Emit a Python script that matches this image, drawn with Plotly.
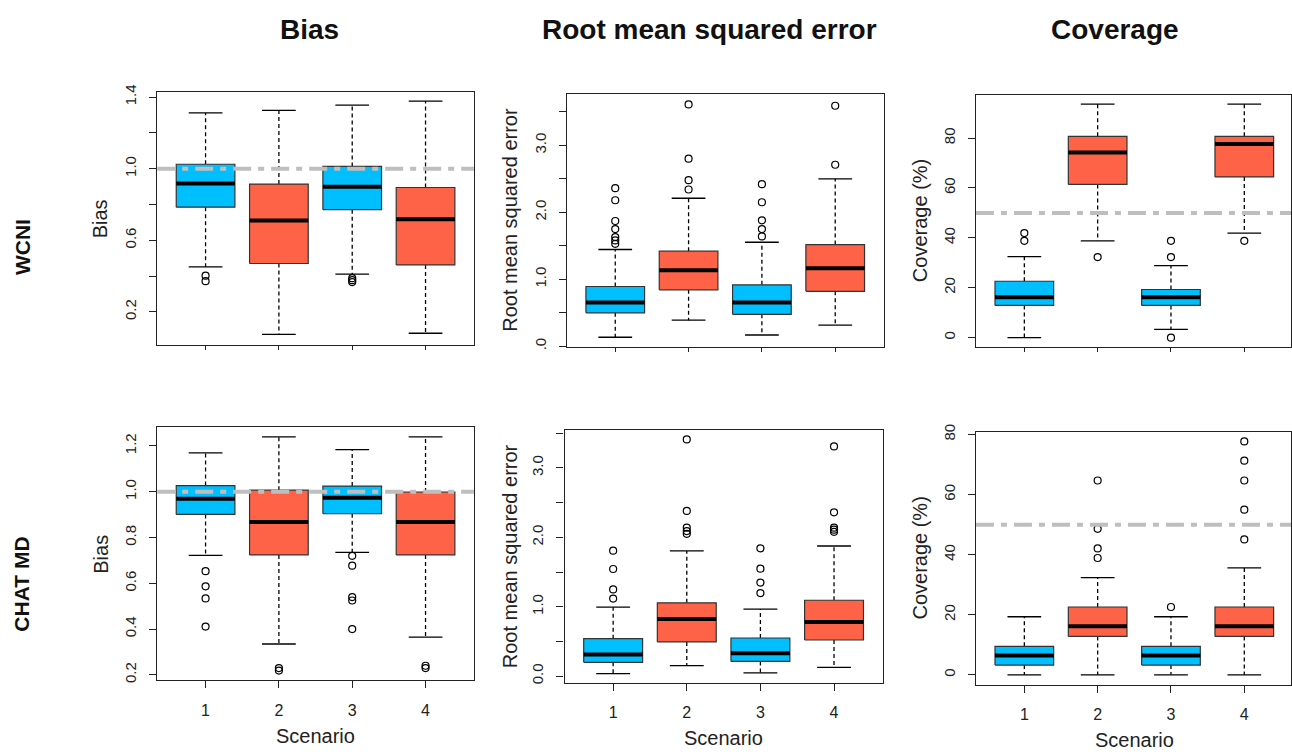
import plotly.graph_objects as go

# ---------------- data ----------------
scenarios = [1, 2, 3, 4]
box_colors = ["#00BFFF", "#FF6347", "#00BFFF", "#FF6347"]
row_labels = ["WCNI", "CHAT MD"]
col_titles = ["Bias", "Root mean squared error", "Coverage"]
y_titles = ["Bias", "Root mean squared error", "Coverage (%)"]
x_title = "Scenario"

# WCNI - Bias
wcni_bias_low = [0.451, 0.074, 0.411, 0.080]
wcni_bias_q1 = [0.785, 0.470, 0.771, 0.462]
wcni_bias_med = [0.917, 0.710, 0.899, 0.718]
wcni_bias_q3 = [1.025, 0.914, 1.013, 0.895]
wcni_bias_high = [1.312, 1.326, 1.356, 1.378]
wcni_bias_out = [[0.402, 0.371], [], [0.388, 0.377, 0.366], []]

# WCNI - RMSE
wcni_rmse_low = [0.135, 0.39, 0.169, 0.315]
wcni_rmse_q1 = [0.50, 0.843, 0.477, 0.82]
wcni_rmse_med = [0.653, 1.136, 0.653, 1.166]
wcni_rmse_q3 = [0.893, 1.42, 0.917, 1.518]
wcni_rmse_high = [1.445, 2.21, 1.553, 2.50]
wcni_rmse_out = [[2.36, 2.18, 1.87, 1.75, 1.63, 1.58, 1.53],
                 [3.61, 2.80, 2.48, 2.34],
                 [2.42, 2.15, 1.88, 1.75, 1.64],
                 [3.59, 2.71]]

# WCNI - Coverage
wcni_cov_low = [0.0, 38.8, 3.3, 41.9]
wcni_cov_q1 = [12.9, 61.4, 12.9, 64.4]
wcni_cov_med = [16.2, 74.2, 16.2, 77.6]
wcni_cov_q3 = [22.6, 80.7, 19.3, 80.7]
wcni_cov_high = [32.5, 93.6, 28.9, 93.6]
wcni_cov_out = [[41.9, 38.8], [32.3], [38.8, 32.3, 0.0], [38.8]]

# CHAT MD - Bias
chat_bias_low = [0.722, 0.335, 0.735, 0.365]
chat_bias_q1 = [0.901, 0.724, 0.904, 0.724]
chat_bias_med = [0.969, 0.868, 0.974, 0.868]
chat_bias_q3 = [1.027, 1.007, 1.025, 0.999]
chat_bias_high = [1.170, 1.240, 1.184, 1.240]
chat_bias_out = [[0.653, 0.587, 0.534, 0.411],
                 [0.230, 0.219],
                 [0.720, 0.677, 0.540, 0.525, 0.400],
                 [0.240, 0.230]]

# CHAT MD - RMSE
chat_rmse_low = [0.038, 0.152, 0.047, 0.128]
chat_rmse_q1 = [0.199, 0.493, 0.213, 0.521]
chat_rmse_med = [0.312, 0.824, 0.331, 0.781]
chat_rmse_q3 = [0.54, 1.057, 0.55, 1.094]
chat_rmse_high = [0.994, 1.804, 0.966, 1.875]
chat_rmse_out = [[1.808, 1.544, 1.25, 1.118],
                 [3.41, 2.38, 2.14, 2.09, 2.05],
                 [1.842, 1.548, 1.349, 1.197],
                 [3.31, 2.36, 2.14, 2.11, 2.08]]

# CHAT MD - Coverage
chat_cov_low = [0.0, 0.0, 0.0, 0.0]
chat_cov_q1 = [3.27, 12.8, 3.27, 12.8]
chat_cov_med = [6.45, 16.2, 6.45, 16.2]
chat_cov_q3 = [9.5, 22.6, 9.5, 22.6]
chat_cov_high = [19.35, 32.4, 19.35, 35.6]
chat_cov_out = [[], [64.7, 48.6, 42.1, 38.9], [22.6], [77.7, 71.3, 64.7, 55.0, 45.1]]

# reference lines
bias_ref = 1.0
cov_ref = 50.0

# tick definitions
bias_top_ticks = [0.2, 0.4, 0.6, 0.8, 1.0, 1.2, 1.4]
bias_top_labels = ["0.2", "", "0.6", "", "1.0", "", "1.4"]
rmse_ticks = [0.0, 0.5, 1.0, 1.5, 2.0, 2.5, 3.0, 3.5]
rmse_top_labels = [".0", "", "1.0", "", "2.0", "", "3.0", ""]
rmse_bot_labels = ["0.0", "", "1.0", "", "2.0", "", "3.0", ""]
cov_ticks = [0, 20, 40, 60, 80]
cov_labels = ["0", "20", "40", "60", "80"]
bias_bot_ticks = [0.2, 0.4, 0.6, 0.8, 1.0, 1.2]
bias_bot_labels = ["0.2", "0.4", "0.6", "0.8", "1.0", "1.2"]

# ---------------- layout geometry ----------------
W, H = 1292, 752
def px_x(v):
    return v / W
def px_y(v):
    return 1 - v / H

panels = [
    dict(low=wcni_bias_low, q1=wcni_bias_q1, med=wcni_bias_med, q3=wcni_bias_q3, high=wcni_bias_high,
         out=wcni_bias_out, ref=bias_ref, box=(157.3, 474.3, 85, 342.7), yr=[0.013, 1.431],
         xr=[0.34, 4.66], tv=bias_top_ticks, tt=bias_top_labels, ytitle=y_titles[0], tx=101, bottom=False),
    dict(low=wcni_rmse_low, q1=wcni_rmse_q1, med=wcni_rmse_med, q3=wcni_rmse_q3, high=wcni_rmse_high,
         out=wcni_rmse_out, ref=None, box=(567.3, 884.3, 87.3, 344.0), yr=[-0.003, 3.767],
         xr=[0.34, 4.66], tv=rmse_ticks, tt=rmse_top_labels, ytitle=y_titles[1], tx=511, bottom=False),
    dict(low=wcni_cov_low, q1=wcni_cov_q1, med=wcni_cov_med, q3=wcni_cov_q3, high=wcni_cov_high,
         out=wcni_cov_out, ref=cov_ref, box=(976.7, 1292, 88.3, 344.3), yr=[-3.67, 97.3],
         xr=[0.34, 4.637], tv=cov_ticks, tt=cov_labels, ytitle=y_titles[2], tx=921, bottom=False),
    dict(low=chat_bias_low, q1=chat_bias_q1, med=chat_bias_med, q3=chat_bias_q3, high=chat_bias_high,
         out=chat_bias_out, ref=bias_ref, box=(157.3, 474.3, 426, 683.3), yr=[0.176, 1.282],
         xr=[0.34, 4.66], tv=bias_bot_ticks, tt=bias_bot_labels, ytitle=y_titles[0], tx=101, bottom=True),
    dict(low=chat_rmse_low, q1=chat_rmse_q1, med=chat_rmse_med, q3=chat_rmse_q3, high=chat_rmse_high,
         out=chat_rmse_out, ref=None, box=(565, 883.3, 429.3, 685.7), yr=[-0.095, 3.54],
         xr=[0.34, 4.66], tv=rmse_ticks, tt=rmse_bot_labels, ytitle=y_titles[1], tx=510, bottom=True),
    dict(low=chat_cov_low, q1=chat_cov_q1, med=chat_cov_med, q3=chat_cov_q3, high=chat_cov_high,
         out=chat_cov_out, ref=cov_ref, box=(976.7, 1292, 430.7, 687.7), yr=[-3.28, 80.9],
         xr=[0.34, 4.637], tv=cov_ticks, tt=cov_labels, ytitle=y_titles[2], tx=921, bottom=True),
]

FONT = "Liberation Sans, Arial, Helvetica, sans-serif"
fig = go.Figure()
layout = dict(
    width=W, height=H, margin=dict(l=0, r=0, t=0, b=0),
    paper_bgcolor="white", plot_bgcolor="white", showlegend=False,
    font=dict(family=FONT, color="#222222"),
)
annotations = []

HW = 0.4   # half box width
CW = 0.23  # half cap width

for i, p in enumerate(panels):
    n = "" if i == 0 else str(i + 1)
    xa, ya = "x" + n, "y" + n
    for j, s in enumerate(scenarios):
        lo, q1, md, q3, hi = p["low"][j], p["q1"][j], p["med"][j], p["q3"][j], p["high"][j]
        common = dict(xaxis=xa, yaxis=ya, showlegend=False, hoverinfo="skip")
        # whiskers (dashed)
        fig.add_trace(go.Scatter(x=[s, s, None, s, s], y=[q3, hi, None, q1, lo], mode="lines",
                                 line=dict(color="black", width=1.3, dash="4px,3px"), **common))
        # staples
        fig.add_trace(go.Scatter(x=[s - CW, s + CW, None, s - CW, s + CW], y=[hi, hi, None, lo, lo],
                                 mode="lines", line=dict(color="black", width=1.3), **common))
        # box
        fig.add_trace(go.Scatter(x=[s - HW, s + HW, s + HW, s - HW, s - HW], y=[q1, q1, q3, q3, q1],
                                 mode="lines", fill="toself", fillcolor=box_colors[j],
                                 line=dict(color="#333333", width=1.2), **common))
        # median
        fig.add_trace(go.Scatter(x=[s - HW, s + HW], y=[md, md], mode="lines",
                                 line=dict(color="black", width=4), **common))
        # outliers
        if p["out"][j]:
            fig.add_trace(go.Scatter(x=[s] * len(p["out"][j]), y=p["out"][j], mode="markers",
                                     marker=dict(symbol="circle-open", size=7, color="black",
                                                 line=dict(width=1.2, color="black")), **common))
    if p["ref"] is not None:
        fig.add_trace(go.Scatter(x=p["xr"], y=[p["ref"], p["ref"]], mode="lines", xaxis=xa, yaxis=ya,
                                 showlegend=False, hoverinfo="skip",
                                 line=dict(color="#BEBEBE", width=4, dash="18px,7px,6px,7px")))

    x0, x1, y0, y1 = p["box"]
    xkey = "xaxis" + n
    ykey = "yaxis" + n
    layout[xkey] = dict(
        domain=[px_x(x0), min(px_x(x1), 1.0)], range=p["xr"], anchor=ya,
        showline=True, mirror=True, linecolor="#222222", linewidth=1.2, showgrid=False, zeroline=False,
        tickmode="array", tickvals=scenarios,
        ticktext=[str(s) for s in scenarios] if p["bottom"] else ["" for _ in scenarios],
        ticks="outside", ticklen=7 if p["bottom"] else 4, tickcolor="#222222", tickwidth=1.2,
        tickfont=dict(size=16, family=FONT, color="#222222"), ticklabelstandoff=8,
    )
    layout[ykey] = dict(
        domain=[px_y(y1), px_y(y0)], range=p["yr"], anchor=xa,
        showline=True, mirror=True, linecolor="#222222", linewidth=1.2, showgrid=False, zeroline=False,
        tickmode="array", tickvals=p["tv"], ticktext=p["tt"], tickangle=-90,
        ticks="outside", ticklen=7, tickcolor="#222222", tickwidth=1.2,
        tickfont=dict(size=15, family=FONT, color="#222222"), ticklabelstandoff=7,
    )
    # y-axis title
    annotations.append(dict(text=p["ytitle"], x=px_x(p["tx"]), y=px_y((y0 + y1) / 2), xref="paper", yref="paper",
                            xanchor="center", yanchor="middle", textangle=-90, showarrow=False,
                            font=dict(size=20, family=FONT, color="#222222")))
    if p["bottom"]:
        cx = (x0 + x1) / 2 if x1 < 1290 else (x0 + 1293.7) / 2
        annotations.append(dict(text=x_title, x=px_x(cx),
                                y=px_y(y1 + 56), xref="paper", yref="paper",
                                xanchor="center", yanchor="middle", showarrow=False,
                                font=dict(size=20, family=FONT, color="#222222")))

# column titles
for t, cx in zip(col_titles, [310, 710, 1116]):
    annotations.append(dict(text="<b>" + t + "</b>", x=px_x(cx), y=px_y(22), xref="paper", yref="paper",
                            xanchor="center", yanchor="middle", showarrow=False,
                            font=dict(size=28, family=FONT, color="#111111")))
# row labels
for t, cy in zip(row_labels, [243, 585]):
    annotations.append(dict(text="<b>" + t + "</b>", x=px_x(22), y=px_y(cy), xref="paper", yref="paper",
                            xanchor="center", yanchor="middle", textangle=-90, showarrow=False,
                            font=dict(size=21, family=FONT, color="#111111")))

layout["annotations"] = annotations
fig.update_layout(**layout)
fig.write_html("out.html")
